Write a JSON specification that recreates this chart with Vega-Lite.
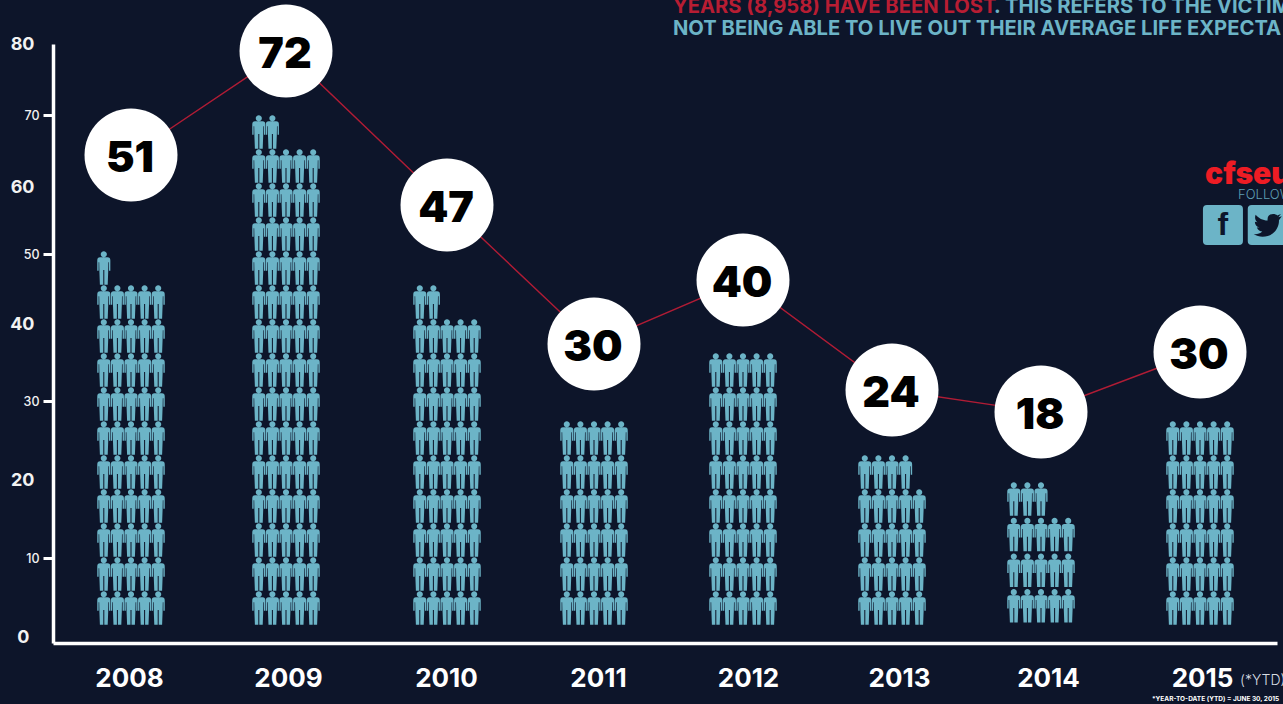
{
"$schema":"https://vega.github.io/schema/vega-lite/v6.json",
"width":1224,"height":643,
"autosize":{"type":"none"},
"padding":{"left":53,"top":0,"right":6,"bottom":61},
"background":"#0d152a",
"config":{"view":{"stroke":null},"font":"Inter"},
"datasets":{
"annual":[{"year":2008,"deaths":51},{"year":2009,"deaths":72},{"year":2010,"deaths":47},{"year":2011,"deaths":30},{"year":2012,"deaths":40},{"year":2013,"deaths":24},{"year":2014,"deaths":18},{"year":2015,"deaths":30}],
"figures":[
{"year":2008,"col":1,"tier":1},{"year":2008,"col":2,"tier":1},{"year":2008,"col":3,"tier":1},{"year":2008,"col":4,"tier":1},{"year":2008,"col":5,"tier":1},
{"year":2008,"col":1,"tier":2},{"year":2008,"col":2,"tier":2},{"year":2008,"col":3,"tier":2},{"year":2008,"col":4,"tier":2},{"year":2008,"col":5,"tier":2},
{"year":2008,"col":1,"tier":3},{"year":2008,"col":2,"tier":3},{"year":2008,"col":3,"tier":3},{"year":2008,"col":4,"tier":3},{"year":2008,"col":5,"tier":3},
{"year":2008,"col":1,"tier":4},{"year":2008,"col":2,"tier":4},{"year":2008,"col":3,"tier":4},{"year":2008,"col":4,"tier":4},{"year":2008,"col":5,"tier":4},
{"year":2008,"col":1,"tier":5},{"year":2008,"col":2,"tier":5},{"year":2008,"col":3,"tier":5},{"year":2008,"col":4,"tier":5},{"year":2008,"col":5,"tier":5},
{"year":2008,"col":1,"tier":6},{"year":2008,"col":2,"tier":6},{"year":2008,"col":3,"tier":6},{"year":2008,"col":4,"tier":6},{"year":2008,"col":5,"tier":6},
{"year":2008,"col":1,"tier":7},{"year":2008,"col":2,"tier":7},{"year":2008,"col":3,"tier":7},{"year":2008,"col":4,"tier":7},{"year":2008,"col":5,"tier":7},
{"year":2008,"col":1,"tier":8},{"year":2008,"col":2,"tier":8},{"year":2008,"col":3,"tier":8},{"year":2008,"col":4,"tier":8},{"year":2008,"col":5,"tier":8},
{"year":2008,"col":1,"tier":9},{"year":2008,"col":2,"tier":9},{"year":2008,"col":3,"tier":9},{"year":2008,"col":4,"tier":9},{"year":2008,"col":5,"tier":9},
{"year":2008,"col":1,"tier":10},{"year":2008,"col":2,"tier":10},{"year":2008,"col":3,"tier":10},{"year":2008,"col":4,"tier":10},{"year":2008,"col":5,"tier":10},
{"year":2008,"col":1,"tier":11},
{"year":2009,"col":1,"tier":1},{"year":2009,"col":2,"tier":1},{"year":2009,"col":3,"tier":1},{"year":2009,"col":4,"tier":1},{"year":2009,"col":5,"tier":1},
{"year":2009,"col":1,"tier":2},{"year":2009,"col":2,"tier":2},{"year":2009,"col":3,"tier":2},{"year":2009,"col":4,"tier":2},{"year":2009,"col":5,"tier":2},
{"year":2009,"col":1,"tier":3},{"year":2009,"col":2,"tier":3},{"year":2009,"col":3,"tier":3},{"year":2009,"col":4,"tier":3},{"year":2009,"col":5,"tier":3},
{"year":2009,"col":1,"tier":4},{"year":2009,"col":2,"tier":4},{"year":2009,"col":3,"tier":4},{"year":2009,"col":4,"tier":4},{"year":2009,"col":5,"tier":4},
{"year":2009,"col":1,"tier":5},{"year":2009,"col":2,"tier":5},{"year":2009,"col":3,"tier":5},{"year":2009,"col":4,"tier":5},{"year":2009,"col":5,"tier":5},
{"year":2009,"col":1,"tier":6},{"year":2009,"col":2,"tier":6},{"year":2009,"col":3,"tier":6},{"year":2009,"col":4,"tier":6},{"year":2009,"col":5,"tier":6},
{"year":2009,"col":1,"tier":7},{"year":2009,"col":2,"tier":7},{"year":2009,"col":3,"tier":7},{"year":2009,"col":4,"tier":7},{"year":2009,"col":5,"tier":7},
{"year":2009,"col":1,"tier":8},{"year":2009,"col":2,"tier":8},{"year":2009,"col":3,"tier":8},{"year":2009,"col":4,"tier":8},{"year":2009,"col":5,"tier":8},
{"year":2009,"col":1,"tier":9},{"year":2009,"col":2,"tier":9},{"year":2009,"col":3,"tier":9},{"year":2009,"col":4,"tier":9},{"year":2009,"col":5,"tier":9},
{"year":2009,"col":1,"tier":10},{"year":2009,"col":2,"tier":10},{"year":2009,"col":3,"tier":10},{"year":2009,"col":4,"tier":10},{"year":2009,"col":5,"tier":10},
{"year":2009,"col":1,"tier":11},{"year":2009,"col":2,"tier":11},{"year":2009,"col":3,"tier":11},{"year":2009,"col":4,"tier":11},{"year":2009,"col":5,"tier":11},
{"year":2009,"col":1,"tier":12},{"year":2009,"col":2,"tier":12},{"year":2009,"col":3,"tier":12},{"year":2009,"col":4,"tier":12},{"year":2009,"col":5,"tier":12},
{"year":2009,"col":1,"tier":13},{"year":2009,"col":2,"tier":13},{"year":2009,"col":3,"tier":13},{"year":2009,"col":4,"tier":13},{"year":2009,"col":5,"tier":13},
{"year":2009,"col":1,"tier":14},{"year":2009,"col":2,"tier":14},{"year":2009,"col":3,"tier":14},{"year":2009,"col":4,"tier":14},{"year":2009,"col":5,"tier":14},
{"year":2009,"col":1,"tier":15},{"year":2009,"col":2,"tier":15},
{"year":2010,"col":1,"tier":1},{"year":2010,"col":2,"tier":1},{"year":2010,"col":3,"tier":1},{"year":2010,"col":4,"tier":1},{"year":2010,"col":5,"tier":1},
{"year":2010,"col":1,"tier":2},{"year":2010,"col":2,"tier":2},{"year":2010,"col":3,"tier":2},{"year":2010,"col":4,"tier":2},{"year":2010,"col":5,"tier":2},
{"year":2010,"col":1,"tier":3},{"year":2010,"col":2,"tier":3},{"year":2010,"col":3,"tier":3},{"year":2010,"col":4,"tier":3},{"year":2010,"col":5,"tier":3},
{"year":2010,"col":1,"tier":4},{"year":2010,"col":2,"tier":4},{"year":2010,"col":3,"tier":4},{"year":2010,"col":4,"tier":4},{"year":2010,"col":5,"tier":4},
{"year":2010,"col":1,"tier":5},{"year":2010,"col":2,"tier":5},{"year":2010,"col":3,"tier":5},{"year":2010,"col":4,"tier":5},{"year":2010,"col":5,"tier":5},
{"year":2010,"col":1,"tier":6},{"year":2010,"col":2,"tier":6},{"year":2010,"col":3,"tier":6},{"year":2010,"col":4,"tier":6},{"year":2010,"col":5,"tier":6},
{"year":2010,"col":1,"tier":7},{"year":2010,"col":2,"tier":7},{"year":2010,"col":3,"tier":7},{"year":2010,"col":4,"tier":7},{"year":2010,"col":5,"tier":7},
{"year":2010,"col":1,"tier":8},{"year":2010,"col":2,"tier":8},{"year":2010,"col":3,"tier":8},{"year":2010,"col":4,"tier":8},{"year":2010,"col":5,"tier":8},
{"year":2010,"col":1,"tier":9},{"year":2010,"col":2,"tier":9},{"year":2010,"col":3,"tier":9},{"year":2010,"col":4,"tier":9},{"year":2010,"col":5,"tier":9},
{"year":2010,"col":1,"tier":10},{"year":2010,"col":2,"tier":10},
{"year":2011,"col":1,"tier":1},{"year":2011,"col":2,"tier":1},{"year":2011,"col":3,"tier":1},{"year":2011,"col":4,"tier":1},{"year":2011,"col":5,"tier":1},
{"year":2011,"col":1,"tier":2},{"year":2011,"col":2,"tier":2},{"year":2011,"col":3,"tier":2},{"year":2011,"col":4,"tier":2},{"year":2011,"col":5,"tier":2},
{"year":2011,"col":1,"tier":3},{"year":2011,"col":2,"tier":3},{"year":2011,"col":3,"tier":3},{"year":2011,"col":4,"tier":3},{"year":2011,"col":5,"tier":3},
{"year":2011,"col":1,"tier":4},{"year":2011,"col":2,"tier":4},{"year":2011,"col":3,"tier":4},{"year":2011,"col":4,"tier":4},{"year":2011,"col":5,"tier":4},
{"year":2011,"col":1,"tier":5},{"year":2011,"col":2,"tier":5},{"year":2011,"col":3,"tier":5},{"year":2011,"col":4,"tier":5},{"year":2011,"col":5,"tier":5},
{"year":2011,"col":1,"tier":6},{"year":2011,"col":2,"tier":6},{"year":2011,"col":3,"tier":6},{"year":2011,"col":4,"tier":6},{"year":2011,"col":5,"tier":6},
{"year":2012,"col":1,"tier":1},{"year":2012,"col":2,"tier":1},{"year":2012,"col":3,"tier":1},{"year":2012,"col":4,"tier":1},{"year":2012,"col":5,"tier":1},
{"year":2012,"col":1,"tier":2},{"year":2012,"col":2,"tier":2},{"year":2012,"col":3,"tier":2},{"year":2012,"col":4,"tier":2},{"year":2012,"col":5,"tier":2},
{"year":2012,"col":1,"tier":3},{"year":2012,"col":2,"tier":3},{"year":2012,"col":3,"tier":3},{"year":2012,"col":4,"tier":3},{"year":2012,"col":5,"tier":3},
{"year":2012,"col":1,"tier":4},{"year":2012,"col":2,"tier":4},{"year":2012,"col":3,"tier":4},{"year":2012,"col":4,"tier":4},{"year":2012,"col":5,"tier":4},
{"year":2012,"col":1,"tier":5},{"year":2012,"col":2,"tier":5},{"year":2012,"col":3,"tier":5},{"year":2012,"col":4,"tier":5},{"year":2012,"col":5,"tier":5},
{"year":2012,"col":1,"tier":6},{"year":2012,"col":2,"tier":6},{"year":2012,"col":3,"tier":6},{"year":2012,"col":4,"tier":6},{"year":2012,"col":5,"tier":6},
{"year":2012,"col":1,"tier":7},{"year":2012,"col":2,"tier":7},{"year":2012,"col":3,"tier":7},{"year":2012,"col":4,"tier":7},{"year":2012,"col":5,"tier":7},
{"year":2012,"col":1,"tier":8},{"year":2012,"col":2,"tier":8},{"year":2012,"col":3,"tier":8},{"year":2012,"col":4,"tier":8},{"year":2012,"col":5,"tier":8},
{"year":2013,"col":1,"tier":1},{"year":2013,"col":2,"tier":1},{"year":2013,"col":3,"tier":1},{"year":2013,"col":4,"tier":1},{"year":2013,"col":5,"tier":1},
{"year":2013,"col":1,"tier":2},{"year":2013,"col":2,"tier":2},{"year":2013,"col":3,"tier":2},{"year":2013,"col":4,"tier":2},{"year":2013,"col":5,"tier":2},
{"year":2013,"col":1,"tier":3},{"year":2013,"col":2,"tier":3},{"year":2013,"col":3,"tier":3},{"year":2013,"col":4,"tier":3},{"year":2013,"col":5,"tier":3},
{"year":2013,"col":1,"tier":4},{"year":2013,"col":2,"tier":4},{"year":2013,"col":3,"tier":4},{"year":2013,"col":4,"tier":4},{"year":2013,"col":5,"tier":4},
{"year":2013,"col":1,"tier":5},{"year":2013,"col":2,"tier":5},{"year":2013,"col":3,"tier":5},{"year":2013,"col":4,"tier":5},
{"year":2014,"col":1,"tier":1},{"year":2014,"col":2,"tier":1},{"year":2014,"col":3,"tier":1},{"year":2014,"col":4,"tier":1},{"year":2014,"col":5,"tier":1},
{"year":2014,"col":1,"tier":2},{"year":2014,"col":2,"tier":2},{"year":2014,"col":3,"tier":2},{"year":2014,"col":4,"tier":2},{"year":2014,"col":5,"tier":2},
{"year":2014,"col":1,"tier":3},{"year":2014,"col":2,"tier":3},{"year":2014,"col":3,"tier":3},{"year":2014,"col":4,"tier":3},{"year":2014,"col":5,"tier":3},
{"year":2014,"col":1,"tier":4},{"year":2014,"col":2,"tier":4},{"year":2014,"col":3,"tier":4},
{"year":2015,"col":1,"tier":1},{"year":2015,"col":2,"tier":1},{"year":2015,"col":3,"tier":1},{"year":2015,"col":4,"tier":1},{"year":2015,"col":5,"tier":1},
{"year":2015,"col":1,"tier":2},{"year":2015,"col":2,"tier":2},{"year":2015,"col":3,"tier":2},{"year":2015,"col":4,"tier":2},{"year":2015,"col":5,"tier":2},
{"year":2015,"col":1,"tier":3},{"year":2015,"col":2,"tier":3},{"year":2015,"col":3,"tier":3},{"year":2015,"col":4,"tier":3},{"year":2015,"col":5,"tier":3},
{"year":2015,"col":1,"tier":4},{"year":2015,"col":2,"tier":4},{"year":2015,"col":3,"tier":4},{"year":2015,"col":4,"tier":4},{"year":2015,"col":5,"tier":4},
{"year":2015,"col":1,"tier":5},{"year":2015,"col":2,"tier":5},{"year":2015,"col":3,"tier":5},{"year":2015,"col":4,"tier":5},{"year":2015,"col":5,"tier":5},
{"year":2015,"col":1,"tier":6},{"year":2015,"col":2,"tier":6},{"year":2015,"col":3,"tier":6},{"year":2015,"col":4,"tier":6},{"year":2015,"col":5,"tier":6}
]},
"resolve":{"scale":{"y":"independent"}},
"layer":[
{"layer":[
{"data":{"values":[{"note":"YEARS (8,958) HAVE BEEN LOST"}]},
 "mark":{"type":"text","align":"left","baseline":"middle","fontSize":20.2,"fontWeight":"bold","color":"#b81d33"},
 "encoding":{
  "text":{"field":"note"},
  "x":{"datum":2011.53,"type":"quantitative","title":null,
   "scale":{"domain":[2007.5,2008,2009,2010,2011,2012,2013,2014,2015,2015.5],"range":[0,78,233,394,541,690,839,988,1147,1224],"nice":false,"zero":false},
   "axis":{"values":[2008,2009,2010,2011,2012,2013,2014,2015],"format":"d","title":null,"grid":false,"ticks":false,"labelOverlap":false,"labelFlush":false,
    "domainColor":"#ffffff","domainWidth":3.5,"labelColor":"#ffffff","labelFont":"Inter","labelFontSize":26,"labelFontWeight":"bold","labelPadding":22,
    "encoding":{"labels":{"dx":{"value":{"expr":"[-2,2,-1,4,5,7,7,2][datum.value-2008]"}}}}}},
  "y":{"datum":85.28,"type":"quantitative","title":null,
   "scale":{"domain":[-0.8,0,10,20,30,40,50,60,70,80],"range":[643,637,558,480,401,324,254,187,115,44],"nice":false,"zero":false},
   "axis":{"values":[0,10,20,30,40,50,60,70,80],"title":null,"grid":false,"tickSize":10,"tickWidth":3,"tickColor":"#ffffff",
    "tickOpacity":{"condition":{"test":"datum.value%20==0","value":0},"value":1},
    "domainColor":"#ffffff","domainWidth":3.5,"labelColor":"#f2f2f2","labelFont":"Inter","labelPadding":4,"labelOverlap":false,"labelFlush":false,
    "labelFontSize":{"condition":{"test":"datum.value%20==0","value":18},"value":12.5},
    "labelFontWeight":{"condition":{"test":"datum.value%20==0","value":700},"value":500},
    "encoding":{"labels":{"dx":{"value":{"expr":"datum.value==0?-10:datum.value%20==0?-5:0"}}}}}}
 }},
{"data":{"values":[{"note":". THIS REFERS TO THE VICTIM"}]},
 "mark":{"type":"text","align":"left","baseline":"middle","fontSize":20.2,"fontWeight":"bold","color":"#6cb4c7"},
 "encoding":{"text":{"field":"note"},"x":{"datum":2013.685,"type":"quantitative"},"y":{"datum":85.28,"type":"quantitative"}}},
{"data":{"values":[{"note":"NOT BEING ABLE TO LIVE OUT THEIR AVERAGE LIFE EXPECTA"}]},
 "mark":{"type":"text","align":"left","baseline":"middle","fontSize":20.2,"fontWeight":"bold","color":"#6cb4c7"},
 "encoding":{"text":{"field":"note"},"x":{"datum":2011.53,"type":"quantitative"},"y":{"datum":82.07,"type":"quantitative"}}},
{"data":{"values":[{"note":"cfseu"}]},
 "mark":{"type":"text","align":"left","baseline":"middle","fontSize":30,"fontWeight":900,"color":"#ed1c24"},
 "encoding":{"text":{"field":"note"},"x":{"datum":2015.033,"type":"quantitative"},"y":{"datum":61.65,"type":"quantitative"}}},
{"data":{"values":[{"note":"FOLLOW"}]},
 "mark":{"type":"text","align":"left","baseline":"middle","fontSize":13,"fontWeight":300,"color":"#5f9fb4"},
 "encoding":{"text":{"field":"note"},"x":{"datum":2015.247,"type":"quantitative"},"y":{"datum":58.85,"type":"quantitative"}}},
{"data":{"values":[{"network":"facebook","slot":2015.149},{"network":"twitter","slot":2015.44}]},
 "mark":{"type":"point","filled":true,"opacity":1,"strokeWidth":0,"color":"#6cb4c7","size":1600,
  "shape":"M-0.8,-1 L0.8,-1 Q1,-1 1,-0.8 L1,0.8 Q1,1 0.8,1 L-0.8,1 Q-1,1 -1,0.8 L-1,-0.8 Q-1,-1 -0.8,-1 Z"},
 "encoding":{"x":{"field":"slot","type":"quantitative"},"y":{"datum":54.33,"type":"quantitative"}}},
{"data":{"values":[{"note":"f"}]},
 "mark":{"type":"text","align":"center","baseline":"middle","font":"Liberation Sans","fontSize":32,"fontWeight":"bold","color":"#0d152a"},
 "encoding":{"text":{"field":"note"},"x":{"datum":2015.149,"type":"quantitative"},"y":{"datum":54.33,"type":"quantitative"}}},
{"data":{"values":[{"network":"twitter"}]},
 "mark":{"type":"point","filled":true,"opacity":1,"strokeWidth":0,"color":"#0d152a","size":784,
  "shape":"M1,-0.62 L0.76,-0.56 L0.94,-0.78 L0.68,-0.68 C0.5,-0.875 -0.08,-0.83 -0.01,-0.325 C-0.36,-0.325 -0.66,-0.49 -0.863,-0.737 C-0.95,-0.55 -0.9,-0.3 -0.73,-0.19 L-0.92,-0.24 C-0.92,-0.03 -0.8,0.12 -0.59,0.17 L-0.78,0.18 C-0.7,0.36 -0.55,0.46 -0.39,0.47 C-0.55,0.62 -0.78,0.67 -1,0.65 C-0.8,0.78 -0.6,0.84 -0.37,0.84 C0.4,0.84 0.82,0.2 0.8,-0.33 Z"},
 "encoding":{"x":{"datum":2015.44,"type":"quantitative"},"y":{"datum":54.33,"type":"quantitative"}}},
{"data":{"values":[{"note":"(*YTD)"}]},
 "mark":{"type":"text","align":"left","baseline":"middle","fontSize":14,"fontWeight":300,"color":"#d8dde3"},
 "encoding":{"text":{"field":"note"},"x":{"datum":2015.26,"type":"quantitative"},"y":{"datum":-5.87,"type":"quantitative"}}},
{"data":{"values":[{"note":"*YEAR-TO-DATE (YTD) = JUNE 30, 2015"}]},
 "mark":{"type":"text","align":"left","baseline":"middle","fontSize":6.5,"fontWeight":"bold","color":"#ffffff"},
 "encoding":{"text":{"field":"note"},"x":{"datum":2014.698,"type":"quantitative"},"y":{"datum":-8.27,"type":"quantitative"}}}
]},
{"data":{"name":"figures"},
 "mark":{"type":"point","filled":true,"opacity":1,"strokeWidth":0,"color":"#6cb4c7","size":1156,
  "xOffset":{"expr":"(datum.col-3)*13.6"},
  "yOffset":{"expr":"datum.year==2014?-0.5-1.6*datum.tier:0"},
  "shape":"M-0.22,-0.63 L0.22,-0.63 Q0.385,-0.63 0.385,-0.44 L0.385,0.16 L0.305,0.16 L0.305,-0.34 L0.27,-0.34 L0.26,0.18 L0.23,0.98 L0.03,0.98 L0.03,0.12 L-0.03,0.12 L-0.03,0.98 L-0.23,0.98 L-0.26,0.18 L-0.27,-0.34 L-0.305,-0.34 L-0.305,0.16 L-0.385,0.16 L-0.385,-0.44 Q-0.385,-0.63 -0.22,-0.63 Z M-0.18,-0.81 A0.18,0.18 0 1 1 0.18,-0.81 A0.18,0.18 0 1 1 -0.18,-0.81 Z"},
 "encoding":{
  "x":{"field":"year","type":"quantitative"},
  "y":{"field":"tier","type":"quantitative","axis":null,"scale":{"domain":[1,15],"range":[608,132],"nice":false,"zero":false}}
 }},
{"data":{"name":"annual"},
 "encoding":{
  "x":{"field":"year","type":"quantitative"},
  "y":{"field":"deaths","type":"quantitative","axis":null,"scale":{"domain":[18,24,30,40,47,51,72],"range":[412,390,348,280,205,155,51],"nice":false,"zero":false}}
 },
 "layer":[
  {"mark":{"type":"line","color":"#b01c35","strokeWidth":1.4,"yOffset":{"expr":"datum.year==2011?-4:datum.year==2015?4:0"}}},
  {"mark":{"type":"point","shape":"circle","filled":true,"opacity":1,"strokeWidth":0,"color":"#ffffff","size":8649,"yOffset":{"expr":"datum.year==2011?-4:datum.year==2015?4:0"}}},
  {"mark":{"type":"text","align":"center","baseline":"middle","fontSize":43,"fontWeight":900,"color":"#000000","dy":4,"dx":-1,"yOffset":{"expr":"datum.year==2011?-4:datum.year==2015?4:0"}},"encoding":{"text":{"field":"deaths","type":"quantitative"}}}
 ]}
]}
